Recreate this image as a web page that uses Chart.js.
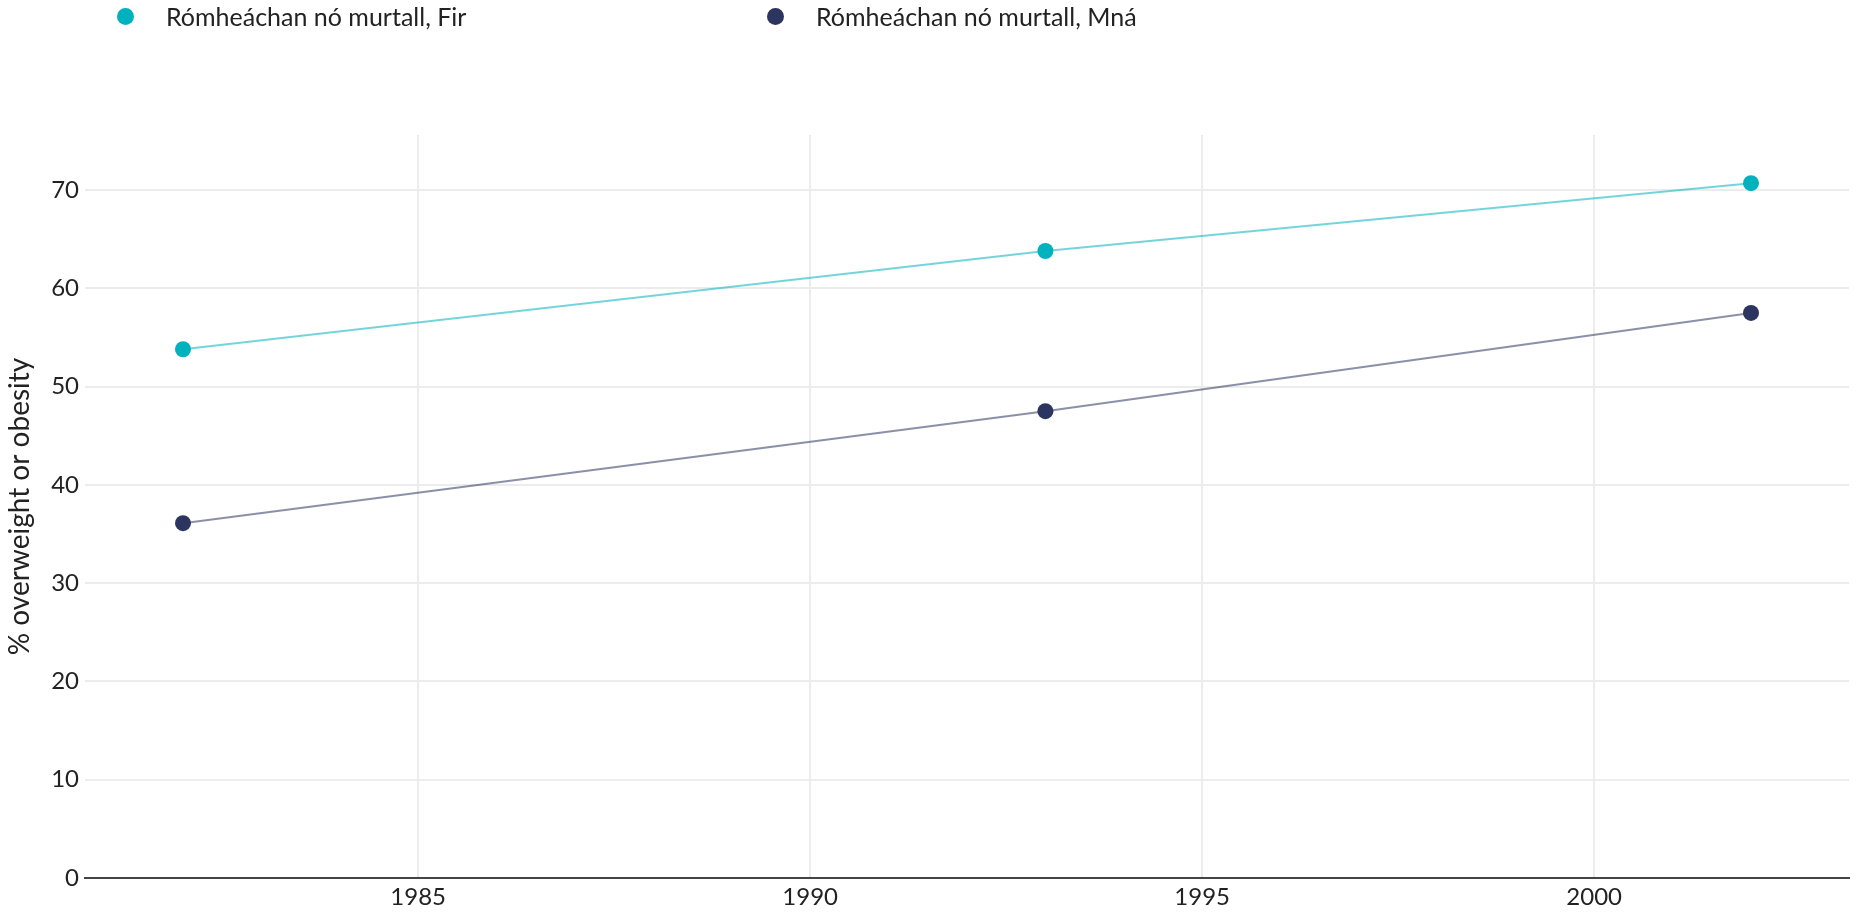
<!DOCTYPE html>
<html>
<head>
<meta charset="utf-8">
<script src="https://cdn.jsdelivr.net/npm/chart.js@4/dist/chart.umd.min.js"></script>
<style>
  html, body { margin: 0; padding: 0; background: #fff; }
  #wrap { position: relative; width: 1857px; height: 918px; }
  #legend { position: absolute; top: 0; left: 0; width: 100%; height: 34px; font-family: Lato, "Noto Sans", sans-serif; font-size: 25px; color: #222; line-height: 30px; }
  .item { position: absolute; top: 1px; display: flex; align-items: center; }
  .dot { width: 17px; height: 17px; border-radius: 50%; margin-right: 32px; }
</style>
</head>
<body>
<div id="wrap">
  <canvas id="chart" width="1857" height="918"></canvas>
  <div id="legend"></div>
</div>
<script>
'use strict';

var years = [1982, 1993, 2002];
var fir = [53.8, 63.8, 70.7];
var mna = [36.1, 47.5, 57.5];
var seriesNames = ['Rómheáchan nó murtall, Fir', 'Rómheáchan nó murtall, Mná'];
var seriesColors = ['#00b2bd', '#2b3560'];
var lineColors = ['rgba(0,178,189,0.55)', 'rgba(43,53,96,0.55)'];

var toPoints = function(vals) {
    return vals.map(function(v, i) { return {x: years[i], y: v}; });
};

// html legend, items spread like the original
var legendLeft = [117, 767];
var legend = document.getElementById('legend');
seriesNames.forEach(function(name, i) {
    var item = document.createElement('div');
    item.className = 'item';
    item.style.left = legendLeft[i] + 'px';
    item.innerHTML = '<span class="dot" style="background:' + seriesColors[i] + '"></span><span>' + name + '</span>';
    legend.appendChild(item);
});

var font = { family: 'Lato, "Noto Sans", sans-serif', size: 24 };

var config = {
    type: 'line',
    data: {
        datasets: [{
            label: seriesNames[0],
            data: toPoints(fir),
            borderColor: lineColors[0],
            backgroundColor: seriesColors[0],
            pointBackgroundColor: seriesColors[0],
            pointBorderColor: seriesColors[0],
            borderWidth: 2,
            pointRadius: 8,
            pointBorderWidth: 0
        }, {
            label: seriesNames[1],
            data: toPoints(mna),
            borderColor: lineColors[1],
            backgroundColor: seriesColors[1],
            pointBackgroundColor: seriesColors[1],
            pointBorderColor: seriesColors[1],
            borderWidth: 2,
            pointRadius: 8,
            pointBorderWidth: 0
        }]
    },
    options: {
        responsive: false,
        animation: false,
        layout: { padding: { top: 135, right: 4, left: 0, bottom: 0 } },
        plugins: {
            legend: { display: false },
            tooltip: { enabled: false }
        },
        scales: {
            x: {
                type: 'linear',
                min: 1980.75,
                max: 2003.25,
                afterFit: function(scale) { scale.height = 40; },
                grid: { color: '#ececec', lineWidth: 2, drawTicks: false },
                border: { display: true, color: '#444', width: 2 },
                ticks: {
                    stepSize: 5,
                    includeBounds: false,
                    padding: 5,
                    color: '#222',
                    font: font,
                    maxRotation: 0,
                    callback: function(v) { return String(v); }
                }
            },
            y: {
                min: 0,
                max: 75.6,
                afterFit: function(scale) { scale.width = 85; },
                grid: { color: '#ececec', lineWidth: 2, drawTicks: false },
                border: { display: false },
                ticks: {
                    stepSize: 10,
                    includeBounds: false,
                    padding: 6,
                    color: '#222',
                    font: font
                },
                title: {
                    display: true,
                    text: '% overweight or obesity',
                    color: '#222',
                    font: { family: 'Lato, "Noto Sans", sans-serif', size: 28 },
                    padding: { top: 3, bottom: 0 }
                }
            }
        }
    }
};

var ctx = document.getElementById('chart').getContext('2d');
window.myLine = new Chart(ctx, config);
</script>
</body>
</html>
